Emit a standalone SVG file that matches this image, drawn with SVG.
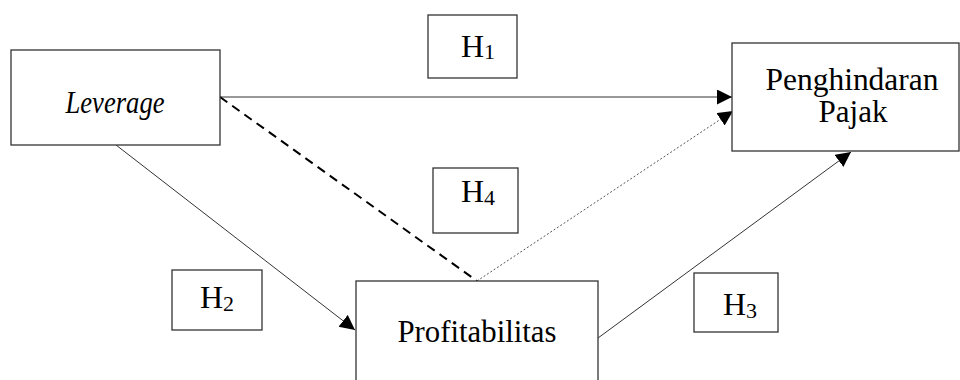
<svg xmlns="http://www.w3.org/2000/svg" width="960" height="380" viewBox="0 0 960 380">
<defs>
<style>
.box{fill:#fff;stroke:#333;stroke-width:1.3}
text{font-family:'Liberation Serif','DejaVu Serif',serif;fill:#000}
.lbl{font-size:31px;text-anchor:middle}
.h{font-size:32px}
.sub{font-size:22px}
.ln{fill:none;stroke:#333;stroke-width:1}
.dash{fill:none;stroke:#000;stroke-width:2;stroke-dasharray:9,6}
.dot{fill:none;stroke:#555;stroke-width:1;stroke-dasharray:2,2}
</style>
<marker id="arr" markerUnits="userSpaceOnUse" markerWidth="16" markerHeight="16" refX="15" refY="7.5" orient="auto">
<path d="M0,0 L15,7.5 L0,15 z" fill="#000"/>
</marker>
</defs>
<rect width="960" height="380" fill="#fff"/>
<g id="connectors">
<line class="ln" x1="220" y1="97" x2="732" y2="97" marker-end="url(#arr)"/>
<line class="dash" x1="220" y1="97" x2="477" y2="281"/>
<line class="dot" x1="477" y1="281" x2="733" y2="111" marker-end="url(#arr)"/>
<line class="ln" x1="116" y1="145" x2="355" y2="330" marker-end="url(#arr)"/>
<line class="ln" x1="598" y1="338" x2="851" y2="152" marker-end="url(#arr)"/>
</g>
<g id="leverage">
<rect class="box" x="11" y="50" width="209" height="95"/>
<text class="lbl" x="115" y="113" font-style="italic" font-family="Liberation Serif, DejaVu Serif, serif" font-size="30" textLength="99" lengthAdjust="spacingAndGlyphs">Leverage</text>
</g>
<g id="penghindaran">
<rect class="box" x="732" y="43" width="227" height="108"/>
<text class="lbl" x="852" y="90" font-size="28" font-family="Liberation Serif, DejaVu Serif, serif" textLength="173" lengthAdjust="spacingAndGlyphs">Penghindaran</text>
<text class="lbl" x="853" y="122" font-size="28" font-family="Liberation Serif, DejaVu Serif, serif" textLength="69" lengthAdjust="spacingAndGlyphs">Pajak</text>
</g>
<g id="profitabilitas">
<rect class="box" x="356" y="281" width="242" height="110"/>
<text class="lbl" x="477" y="342" font-family="Liberation Serif, DejaVu Serif, serif" textLength="159" lengthAdjust="spacingAndGlyphs">Profitabilitas</text>
</g>
<g id="h1">
<rect class="box" x="428" y="15" width="89" height="63"/>
<text class="h" x="461" y="57" font-family="Liberation Serif, DejaVu Serif, serif">H<tspan class="sub" dy="2">1</tspan></text>
</g>
<g id="h4">
<rect class="box" x="433" y="168" width="85" height="65"/>
<text class="h" x="461" y="202" font-family="Liberation Serif, DejaVu Serif, serif">H<tspan class="sub" dy="3">4</tspan></text>
</g>
<g id="h2">
<rect class="box" x="172" y="270" width="90" height="60"/>
<text class="h" x="200" y="308" font-family="Liberation Serif, DejaVu Serif, serif">H<tspan class="sub" dy="3">2</tspan></text>
</g>
<g id="h3">
<rect class="box" x="694" y="273" width="84" height="59"/>
<text class="h" x="723" y="315" font-family="Liberation Serif, DejaVu Serif, serif">H<tspan class="sub" dy="3">3</tspan></text>
</g>
</svg>
